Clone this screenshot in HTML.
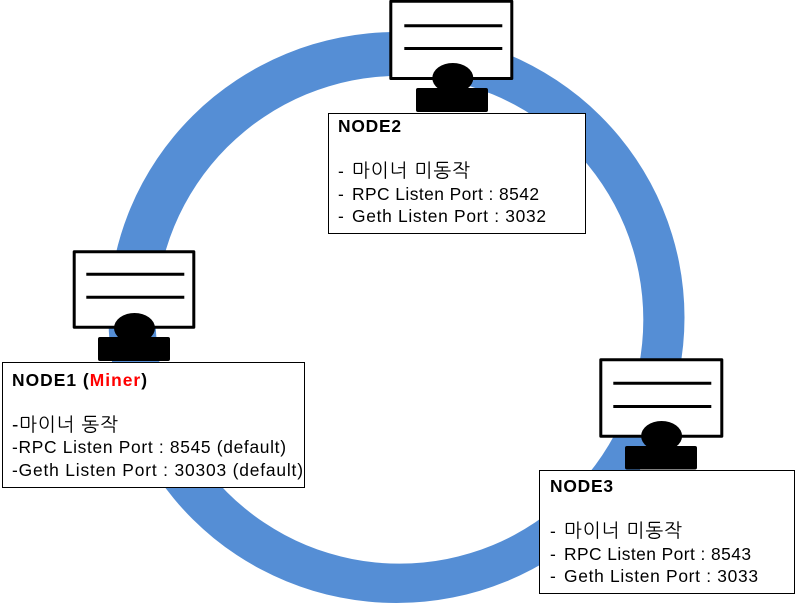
<!DOCTYPE html>
<html>
<head>
<meta charset="utf-8">
<style>
html,body{margin:0;padding:0;background:#fff;width:805px;height:606px;overflow:hidden}
svg{display:block}
text{font-family:"Liberation Sans","NanumGothic","Noto Sans CJK KR",sans-serif;font-size:17.4px;fill:#000}
.b{font-weight:bold}
.k{font-size:19px}
</style>
</head>
<body>
<svg width="805" height="606" viewBox="0 0 805 606" xmlns="http://www.w3.org/2000/svg">
<path fill="#558ed5" fill-rule="evenodd" d="M108.5 317.5a288 285.5 0 1 0 576 0a288 285.5 0 1 0 -576 0Z M155.7 319.75a243.8 243.8 0 1 0 487.6 0a243.8 243.8 0 1 0 -487.6 0Z"/>

<!-- node 1 -->
<rect x="74.2" y="251.8" width="119.6" height="75.4" fill="#fff" stroke="#000" stroke-width="3" stroke-linejoin="round"/>
<line x1="86.3" y1="274.3" x2="184.3" y2="274.3" stroke="#000" stroke-width="3"/>
<line x1="86.3" y1="297.3" x2="184.3" y2="297.3" stroke="#000" stroke-width="3"/>
<ellipse cx="134.5" cy="328" rx="20.5" ry="15" fill="#000"/>
<rect x="98" y="337" width="72" height="24" rx="2" fill="#000"/>

<!-- node 2 -->
<rect x="390.8" y="1.3" width="121" height="77.2" fill="#fff" stroke="#000" stroke-width="3" stroke-linejoin="round"/>
<line x1="404.3" y1="25.7" x2="502.3" y2="25.7" stroke="#000" stroke-width="3"/>
<line x1="404.3" y1="48.5" x2="502.3" y2="48.5" stroke="#000" stroke-width="3"/>
<ellipse cx="452.8" cy="78" rx="20.5" ry="15" fill="#000"/>
<rect x="416" y="88" width="72" height="24" rx="2" fill="#000"/>

<!-- node 3 -->
<rect x="600.8" y="359.8" width="121" height="76.4" fill="#fff" stroke="#000" stroke-width="3" stroke-linejoin="round"/>
<line x1="613.3" y1="383.3" x2="711.3" y2="383.3" stroke="#000" stroke-width="3"/>
<line x1="613.3" y1="406.5" x2="711.3" y2="406.5" stroke="#000" stroke-width="3"/>
<ellipse cx="661.6" cy="436" rx="20.5" ry="15" fill="#000"/>
<rect x="625" y="446" width="72" height="23.5" rx="2" fill="#000"/>

<rect x="2.5" y="362.5" width="302" height="125" fill="#fff" stroke="#000" stroke-width="1"/>
<text x="12" y="386" class="b" textLength="135" lengthAdjust="spacing">NODE1 (<tspan style="fill:#ff0000">Miner</tspan>)</text>
<text x="12" y="431" class="k" textLength="106" lengthAdjust="spacing">-마이너 동작</text>
<text x="12" y="453" textLength="274" lengthAdjust="spacing">-RPC Listen Port : 8545 (default)</text>
<text x="12" y="476" textLength="291" lengthAdjust="spacing">-Geth Listen Port : 30303 (default)</text>

<rect x="328.5" y="113.5" width="257" height="120" fill="#fff" stroke="#000" stroke-width="1"/>
<text x="338" y="132" class="b" textLength="63" lengthAdjust="spacing">NODE2</text>
<text x="338" y="177">-</text><text x="352" y="177" class="k" textLength="118" lengthAdjust="spacing">마이너 미동작</text>
<text x="338" y="200">-</text><text x="352" y="200" textLength="187" lengthAdjust="spacing">RPC Listen Port : 8542</text>
<text x="338" y="222">-</text><text x="352" y="222" textLength="194" lengthAdjust="spacing">Geth Listen Port : 3032</text>

<rect x="539.5" y="470.5" width="255" height="123" fill="#fff" stroke="#000" stroke-width="1"/>
<text x="550" y="492" class="b" textLength="63" lengthAdjust="spacing">NODE3</text>
<text x="550" y="537">-</text><text x="564" y="537" class="k" textLength="118" lengthAdjust="spacing">마이너 미동작</text>
<text x="550" y="560">-</text><text x="564" y="560" textLength="187" lengthAdjust="spacing">RPC Listen Port : 8543</text>
<text x="550" y="582">-</text><text x="564" y="582" textLength="194" lengthAdjust="spacing">Geth Listen Port : 3033</text>
</svg>
</body>
</html>
